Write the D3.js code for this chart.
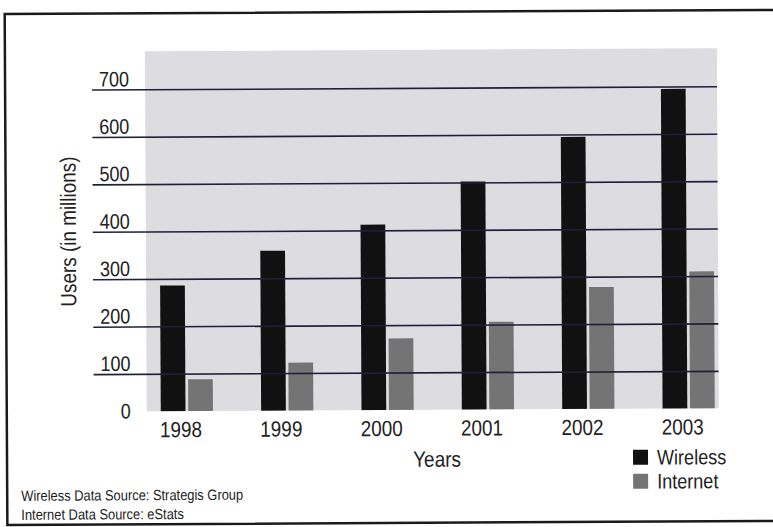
<!DOCTYPE html>
<html>
<head>
<meta charset="utf-8">
<script src="https://cdn.jsdelivr.net/npm/d3@7"></script>
<style>
  html, body { margin: 0; padding: 0; background: #fff; }
  svg text { font-family: "Liberation Sans", Arial, sans-serif; fill: #222; }
</style>
</head>
<body>
<div id="graphicContainer"></div>
<script>
// values (users, millions)
var years = ["1998", "1999", "2000", "2001", "2002", "2003"];
var series = ["Wireless", "Internet"];
var wireless = [286, 358, 412, 502, 595, 695];
var internet = [88, 122, 172, 206, 278, 310];
var yTicks = [0, 100, 200, 300, 400, 500, 600, 700];
var sources = ["Wireless Data Source: Strategis Group", "Internet Data Source: eStats"];

var width = 773, height = 527;
var colors = { "Wireless": "#111111", "Internet": "#747474" };
var squeeze = 0.86; // the original type is a narrow helvetica

function place(x, y, rot) {
    return "translate(" + x + "," + y + ")" + (rot ? " rotate(" + rot + ")" : "") + " scale(" + squeeze + ",1)";
}

function makeChart() {
    d3.select("#graphicContainer svg").remove();

    var svg = d3.select("#graphicContainer").append("svg")
        .attr("width", width)
        .attr("height", height);

    // whole scan is tilted a touch
    var g = svg.append("g")
        .attr("transform", "rotate(-0.3, 386, 263)");

    // frame
    g.append("path")
        .attr("d", "M780,12 H6 V523 H780")
        .attr("fill", "none")
        .attr("stroke", "#1a1a1a")
        .attr("stroke-width", 2.5);

    var y = d3.scaleLinear()
        .domain([0, 700])
        .range([420, 88]);

    var plot = { left: 146, right: 718, top: 50, bottom: y(0) - 10 };

    var x = d3.scaleBand()
        .domain(years)
        .range([160, 714])
        .paddingInner(0.48)
        .paddingOuter(0);

    var xSub = d3.scaleBand()
        .domain(series)
        .range([0, x.bandwidth()])
        .paddingInner(0.1);

    // grey plot area
    g.append("rect")
        .attr("x", plot.left)
        .attr("y", plot.top)
        .attr("width", plot.right - plot.left)
        .attr("height", plot.bottom - plot.top)
        .attr("fill", "#dcdce1");

    g.append("clipPath").attr("id", "plotClip")
        .append("rect")
        .attr("x", plot.left)
        .attr("y", plot.top)
        .attr("width", plot.right - plot.left)
        .attr("height", plot.bottom - plot.top);

    var rows = years.map((yr, i) => ({ year: yr, Wireless: wireless[i], Internet: internet[i] }));

    var groups = g.append("g")
        .attr("clip-path", "url(#plotClip)")
        .selectAll(".year")
        .data(rows)
        .enter()
        .append("g")
        .attr("transform", d => "translate(" + x(d.year) + ",0)");

    groups.selectAll("rect")
        .data(d => series.map(s => ({ key: s, value: d[s] })))
        .enter()
        .append("rect")
        .attr("x", d => xSub(d.key))
        .attr("width", xSub.bandwidth())
        .attr("y", d => y(d.value))
        .attr("height", d => y(0) - y(d.value))
        .attr("fill", d => colors[d.key]);

    // gridlines, drawn over the bars like the original
    var axis = g.append("g")
        .attr("transform", "translate(" + plot.right + ",0)")
        .call(d3.axisLeft(y)
            .tickValues(yTicks.filter(t => t > 0))
            .tickSize(plot.right - 93)
            .tickFormat(""));
    axis.select(".domain").remove();
    axis.selectAll("line")
        .attr("stroke", "#1d2038")
        .attr("stroke-width", 1.6);

    g.selectAll(".ylab")
        .data(yTicks)
        .enter()
        .append("text")
        .attr("class", "ylab")
        .attr("transform", d => place(130, y(d) - 3))
        .attr("text-anchor", "end")
        .style("font-size", "21px")
        .text(d => d);

    g.selectAll(".xlab")
        .data(years)
        .enter()
        .append("text")
        .attr("class", "xlab")
        .attr("transform", d => place(x(d) + x.bandwidth() / 2 - 6, 436))
        .attr("text-anchor", "middle")
        .style("font-size", "22px")
        .text(d => d);

    g.append("text")
        .attr("transform", "translate(76,230) rotate(-90) scale(" + squeeze + ",1)")
        .attr("text-anchor", "middle")
        .style("font-size", "22px")
        .text("Users (in millions)");

    g.append("text")
        .attr("transform", place(436, 467))
        .attr("text-anchor", "middle")
        .style("font-size", "22px")
        .text("Years");

    // legend
    var legend = g.selectAll(".legend")
        .data(series)
        .enter()
        .append("g")
        .attr("transform", (d, i) => "translate(632," + (451 + i * 24) + ")");

    legend.append("rect")
        .attr("width", 15)
        .attr("height", 15)
        .attr("fill", d => colors[d]);

    legend.append("text")
        .attr("transform", place(24, 15))
        .style("font-size", "21px")
        .text(d => d);

    g.selectAll(".source")
        .data(sources)
        .enter()
        .append("text")
        .attr("transform", (d, i) => place(20, 499 + i * 19))
        .style("font-size", "15px")
        .text(d => d);
}

makeChart();
</script>
</body>
</html>
